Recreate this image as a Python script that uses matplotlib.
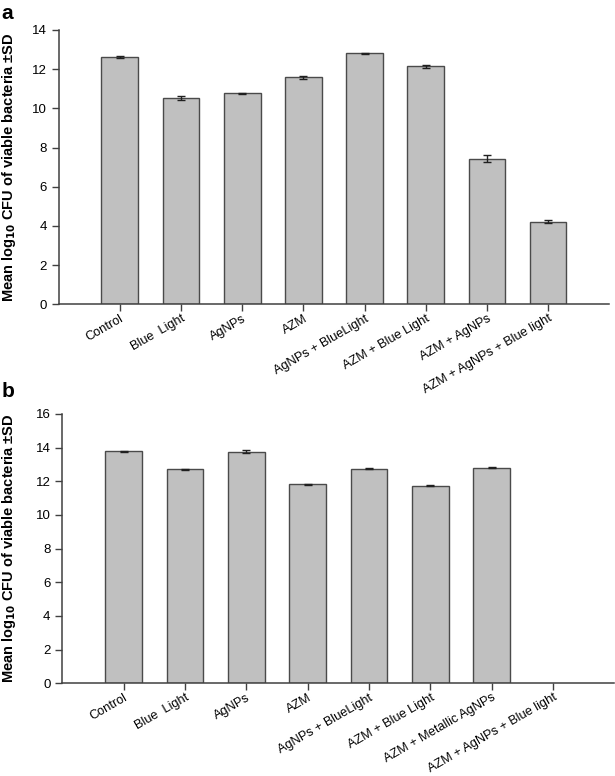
import numpy as np
import matplotlib
matplotlib.use("Agg")
import matplotlib.pyplot as plt

plt.rcParams['font.family'] = ['Liberation Sans', 'DejaVu Sans']

# panel a
labels_a = ["Control", "Blue  Light", "AgNPs", "AZM", "AgNPs + BlueLight",
            "AZM + Blue Light", "AZM + AgNPs", "AZM + AgNPs + Blue light"]
mean_a = [12.62, 10.52, 10.76, 11.59, 12.80, 12.15, 7.42, 4.22]
sd_a = [0.04, 0.12, 0.03, 0.08, 0.02, 0.07, 0.18, 0.07]

# panel b (last group has no bar)
labels_b = ["Control", "Blue  Light", "AgNPs", "AZM", "AgNPs + BlueLight",
            "AZM + Blue Light", "AZM + Metallic AgNPs", "AZM + AgNPs + Blue light"]
mean_b = [13.79, 12.72, 13.77, 11.82, 12.76, 11.75, 12.80, np.nan]
sd_b = [0.03, 0.03, 0.07, 0.04, 0.05, 0.05, 0.03, np.nan]

ylab = "Mean log$_{\\mathbf{10}}$ CFU of viable bacteria ±SD"

fig = plt.figure(figsize=(6.15, 7.76), dpi=100)


def panel(rect, labels, mean, sd, ymax, labx):
    ax = fig.add_axes(rect)
    x = np.arange(len(labels))
    ax.bar(x, mean, width=0.6, color="#c0c0c0", edgecolor="#4a4a4a", linewidth=1.0)
    ax.errorbar(x, mean, yerr=sd, fmt="none", ecolor="#202020",
                elinewidth=1.0, capsize=3, capthick=1.0)
    ax.set_xlim(-1, len(labels))
    ax.set_ylim(0, ymax)
    ax.set_yticks(np.arange(0, ymax + 1, 2))
    ax.set_xticks(x)
    ax.set_xticklabels(labels, rotation=30, ha="right", rotation_mode="anchor")
    for s in ["top", "right"]:
        ax.spines[s].set_visible(False)
    for s in ["left", "bottom"]:
        ax.spines[s].set_color("#404040")
        ax.spines[s].set_linewidth(1.1)
    ax.tick_params(colors="#404040", labelcolor="black", labelsize=9.5,
                   length=5, width=1.0)
    ax.tick_params(axis="x", pad=1, labelsize=9.2)
    ax.set_ylabel(ylab, fontsize=10.5, fontweight="bold")
    ax.yaxis.set_label_coords(labx, 0.5)
    return ax


panel([0.0954, 0.6079, 0.8953, 0.3535], labels_a, mean_a, sd_a, 14, -0.074)
panel([0.1013, 0.1195, 0.8976, 0.3470], labels_b, mean_b, sd_b, 16, -0.080)

fig.text(0.002, 0.982, "a", fontsize=15, fontweight="bold", va="center")
fig.text(0.002, 0.496, "b", fontsize=15, fontweight="bold", va="center")

fig.savefig("out.png", dpi=100)
